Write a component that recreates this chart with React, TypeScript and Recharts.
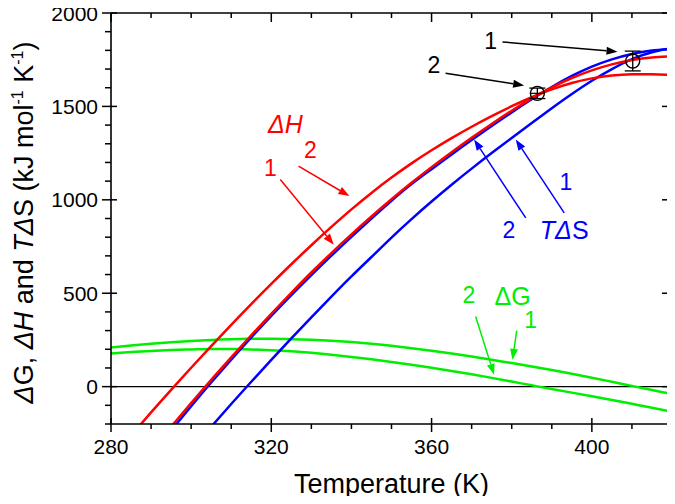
import React from "react";
import {
  ComposedChart,
  Line,
  XAxis,
  YAxis,
  Label,
  ReferenceLine,
  ReferenceDot,
  Scatter,
  ErrorBar,
} from "recharts";

const FONT = "'Liberation Sans', Arial, sans-serif";
const RED = "#ff0000";
const BLUE = "#0000ff";
const GREEN = "#00ee00";

// temperature grid (K)
const temps = [
  280, 285, 290, 295, 300, 305, 310, 315, 320, 325, 330, 335, 340, 345, 350,
  355, 360, 365, 370, 375, 380, 385, 390, 395, 400, 405, 410, 415, 420,
];

// ΔH, curve 1 and 2
const dH1 = [
  null, null, null, -215, -88, 36, 157, 275, 390, 502, 611, 715, 815, 911, 1003,
  1091, 1175, 1255, 1332, 1406, 1477, 1543, 1602, 1652, 1693, 1725, 1748, 1762, 1769,
];
const dH2 = [
  null, -262, -138, -17, 101, 217, 331, 442, 550, 655, 757, 855, 949, 1037, 1119,
  1195, 1265, 1330, 1391, 1448, 1501, 1549, 1591, 1625, 1650, 1665, 1672, 1672, 1668,
];

// TΔS, curve 1 and 2
const tdS1 = [
  null, null, null, null, null, -215, -93, 26, 143, 258, 371, 482, 590, 694, 798,
  897, 991, 1081, 1167, 1250, 1331, 1411, 1490, 1566, 1637, 1700, 1753, 1790, 1812,
];
const tdS2 = [
  null, null, null, -235, -105, 22, 145, 264, 379, 490, 597, 701, 802, 900, 995,
  1084, 1164, 1243, 1320, 1395, 1468, 1538, 1604, 1663, 1713, 1752, 1781, 1799, 1808,
];

// ΔG, curve 1 and 2
const dG1 = [
  210, 220, 229, 237, 244, 250, 254, 256, 256, 254, 251, 246, 239, 230, 219,
  206, 192, 177, 161, 144, 126, 108, 89, 69, 48, 26, 4, -18, -40,
];
const dG2 = [
  178, 185, 191, 196, 199, 201, 201, 199, 195, 189, 181, 171, 159, 146, 132,
  117, 101, 84, 66, 47, 27, 7, -13, -32, -51, -71, -92, -113, -135,
];

// melting points with error bars
const pointOne = [{ T: 410.2, V: 1743, err: 53 }];
const pointTwo = [{ T: 386.4, V: 1570, err: 28 }];

const xTicks = [280, 290, 300, 310, 320, 330, 340, 350, 360, 370, 380, 390, 400, 410, 420];
const yTicks = [
  -200, -100, 0, 100, 200, 300, 400, 500, 600, 700, 800, 900, 1000, 1100, 1200,
  1300, 1400, 1500, 1600, 1700, 1800, 1900, 2000,
];

// annotation arrows (data coords)
const arrows = [
  { from: [377.7, 1845], to: [406.4, 1793], color: "#000" },
  { from: [363.5, 1677], to: [383.1, 1612], color: "#000" },
  { from: [326.8, 1180], to: [339.5, 1020], color: RED },
  { from: [322.25, 1109], to: [335.6, 760], color: RED },
  { from: [383.5, 903], to: [370.6, 1323], color: BLUE },
  { from: [393.1, 930], to: [381, 1323], color: BLUE },
  { from: [371, 375], to: [375.6, 63], color: GREEN },
  { from: [381.25, 300], to: [380.2, 143], color: GREEN },
];

// text labels: parts are [text, italic]
const labels: { T: number; V: number; color: string; size: number; parts: [string, boolean][] }[] = [
  { T: 374.75, V: 1850, color: "#000", size: 23, parts: [["1", false]] },
  { T: 360.6, V: 1725, color: "#000", size: 23, parts: [["2", false]] },
  { T: 323.5, V: 1405, color: RED, size: 25, parts: [["ΔH", true]] },
  { T: 329.75, V: 1269, color: RED, size: 23, parts: [["2", false]] },
  { T: 319.75, V: 1173, color: RED, size: 23, parts: [["1", false]] },
  { T: 393.1, V: 840, color: BLUE, size: 25, parts: [["TΔ", true], ["S", false]] },
  { T: 379.3, V: 840, color: BLUE, size: 23, parts: [["2", false]] },
  { T: 393.5, V: 1099, color: BLUE, size: 23, parts: [["1", false]] },
  { T: 380.2, V: 483, color: GREEN, size: 25, parts: [["ΔG", false]] },
  { T: 369.3, V: 492, color: GREEN, size: 23, parts: [["2", false]] },
  { T: 384.75, V: 358, color: GREEN, size: 23, parts: [["1", false]] },
];

const chartData = temps.map((T, i) => ({
  T,
  dH1: dH1[i],
  dH2: dH2[i],
  tdS1: tdS1[i],
  tdS2: tdS2[i],
  dG1: dG1[i],
  dG2: dG2[i],
}));

const BottomTick = (p: any) => {
  const { x, y, payload } = p;
  const major = payload.value % 40 === 0;
  return (
    <g>
      <line x1={x} x2={x} y1={major ? y - 6 : y} y2={y + (major ? 8 : 5)} stroke="#000" strokeWidth={1.5} />
      {major && (
        <text x={x} y={y + 30} textAnchor="middle" fontSize={21} fill="#000" fontFamily={FONT}>
          {payload.value}
        </text>
      )}
    </g>
  );
};

const TopTick = (p: any) => {
  const { x, y, payload } = p;
  const major = payload.value % 40 === 0;
  return <line x1={x} x2={x} y1={y} y2={y + (major ? 9 : 5)} stroke="#000" strokeWidth={1.5} />;
};

const LeftTick = (p: any) => {
  const { x, y, payload } = p;
  const major = payload.value % 500 === 0;
  return (
    <g>
      <line x1={x - (major ? 9 : 6)} x2={major ? x + 6 : x} y1={y} y2={y} stroke="#000" strokeWidth={1.5} />
      {major && (
        <text x={x - 13} y={y + 7.5} textAnchor="end" fontSize={21} fill="#000" fontFamily={FONT}>
          {payload.value}
        </text>
      )}
    </g>
  );
};

const RightTick = (p: any) => {
  const { x, y, payload } = p;
  const major = payload.value % 500 === 0;
  return <line x1={x - (major ? 10 : 5)} x2={x} y1={y} y2={y} stroke="#000" strokeWidth={1.5} />;
};

const Arrow = (p: any) => {
  const { x1, y1, x2, y2, stroke } = p;
  const a = Math.atan2(y2 - y1, x2 - x1);
  const L = 11;
  const W = 4;
  const bx = x2 - L * Math.cos(a);
  const by = y2 - L * Math.sin(a);
  const pts = `${x2},${y2} ${bx + W * Math.sin(a)},${by - W * Math.cos(a)} ${bx - W * Math.sin(a)},${by + W * Math.cos(a)}`;
  return (
    <g>
      <line x1={x1} y1={y1} x2={bx} y2={by} stroke={stroke} strokeWidth={1.5} />
      <polygon points={pts} fill={stroke} />
    </g>
  );
};

const OpenCircle = (p: any) => (
  <circle cx={p.cx} cy={p.cy} r={7} fill="none" stroke="#000" strokeWidth={1.4} />
);

const CrossCircle = (p: any) => (
  <g>
    <circle cx={p.cx} cy={p.cy} r={7} fill="none" stroke="#000" strokeWidth={1.4} />
    <line x1={p.cx - 7} x2={p.cx + 7} y1={p.cy} y2={p.cy} stroke="#000" strokeWidth={1.2} />
  </g>
);

const XTitle = (p: any) => {
  const vb = p.viewBox;
  return (
    <text x={vb.x + vb.width / 2} y={vb.y + 69} textAnchor="middle" fontSize={27} fill="#000" fontFamily={FONT}>
      Temperature (K)
    </text>
  );
};

const YTitle = (p: any) => {
  const vb = p.viewBox;
  const cx = vb.x + 25;
  const cy = vb.y + vb.height / 2 + 4;
  return (
    <text
      x={cx}
      y={cy}
      transform={`rotate(-90 ${cx} ${cy})`}
      textAnchor="middle"
      fontSize={27}
      fill="#000"
      fontFamily={FONT}
    >
      <tspan fontStyle="italic">Δ</tspan>
      <tspan>G, </tspan>
      <tspan fontStyle="italic">ΔH</tspan>
      <tspan> and </tspan>
      <tspan fontStyle="italic">TΔ</tspan>
      <tspan>S (kJ mol</tspan>
      <tspan fontSize={16} dy={-10}>-1</tspan>
      <tspan dy={10}> K</tspan>
      <tspan fontSize={16} dy={-10}>-1</tspan>
      <tspan dy={10}>)</tspan>
    </text>
  );
};

export default function App() {
  return (
    <div style={{ margin: "-8px 0 0 -8px", width: 675, height: 496 }}>
      <ComposedChart
        width={675}
        height={504}
        data={chartData}
        margin={{ top: 8, right: 0, bottom: 0, left: 8 }}
      >
        <XAxis
          dataKey="T"
          type="number"
          domain={[280, 420]}
          ticks={xTicks}
          interval={0}
          height={80}
          tickSize={0}
          tickMargin={0}
          tickLine={false}
          tick={<BottomTick />}
          axisLine={{ stroke: "#000", strokeWidth: 1.6 }}
          allowDataOverflow
        >
          <Label content={<XTitle />} />
        </XAxis>
        <XAxis
          xAxisId="top"
          orientation="top"
          dataKey="T"
          type="number"
          domain={[280, 420]}
          ticks={xTicks}
          interval={0}
          height={5}
          tickSize={0}
          tickMargin={0}
          tickLine={false}
          tick={<TopTick />}
          axisLine={{ stroke: "#000", strokeWidth: 1.6 }}
          allowDataOverflow
        />
        <YAxis
          type="number"
          domain={[-200, 2000]}
          ticks={yTicks}
          interval={0}
          width={103}
          tickSize={0}
          tickMargin={0}
          tickLine={false}
          tick={<LeftTick />}
          axisLine={{ stroke: "#000", strokeWidth: 1.6 }}
          allowDataOverflow
        >
          <Label content={<YTitle />} />
        </YAxis>
        <YAxis
          yAxisId="right"
          orientation="right"
          type="number"
          domain={[-200, 2000]}
          ticks={yTicks}
          interval={0}
          width={3}
          tickSize={0}
          tickMargin={0}
          tickLine={false}
          tick={<RightTick />}
          axisLine={{ stroke: "#000", strokeWidth: 1.6 }}
          allowDataOverflow
        />

        <ReferenceLine y={0} stroke="#000" strokeWidth={1.3} />

        <Line dataKey="dG1" type="natural" stroke={GREEN} strokeWidth={2.5} dot={false} isAnimationActive={false} />
        <Line dataKey="dG2" type="natural" stroke={GREEN} strokeWidth={2.5} dot={false} isAnimationActive={false} />
        <Line dataKey="tdS1" type="natural" stroke={BLUE} strokeWidth={2.5} dot={false} isAnimationActive={false} />
        <Line dataKey="tdS2" type="natural" stroke={BLUE} strokeWidth={2.5} dot={false} isAnimationActive={false} />
        <Line dataKey="dH1" type="natural" stroke={RED} strokeWidth={2.5} dot={false} isAnimationActive={false} />
        <Line dataKey="dH2" type="natural" stroke={RED} strokeWidth={2.5} dot={false} isAnimationActive={false} />

        <Scatter data={pointOne} dataKey="V" shape={<OpenCircle />} isAnimationActive={false}>
          <ErrorBar dataKey="err" direction="y" width={8} stroke="#000" strokeWidth={1.3} />
        </Scatter>
        <Scatter data={pointTwo} dataKey="V" shape={<CrossCircle />} isAnimationActive={false}>
          <ErrorBar dataKey="err" direction="y" width={8} stroke="#000" strokeWidth={1.3} />
        </Scatter>

        {arrows.map((a, i) => (
          <ReferenceLine
            key={`arrow-${i}`}
            segment={[
              { x: a.from[0], y: a.from[1] },
              { x: a.to[0], y: a.to[1] },
            ]}
            stroke={a.color}
            shape={<Arrow />}
          />
        ))}

        {labels.map((l, i) => (
          <ReferenceDot
            key={`label-${i}`}
            x={l.T}
            y={l.V}
            r={0}
            shape={(p: any) => (
              <text
                x={p.cx}
                y={p.cy}
                dy="0.36em"
                textAnchor="middle"
                fontSize={l.size}
                fill={l.color}
                fontFamily={FONT}
              >
                {l.parts.map(([s, it], j) => (
                  <tspan key={j} fontStyle={it ? "italic" : "normal"}>
                    {s}
                  </tspan>
                ))}
              </text>
            )}
          />
        ))}
      </ComposedChart>
    </div>
  );
}
